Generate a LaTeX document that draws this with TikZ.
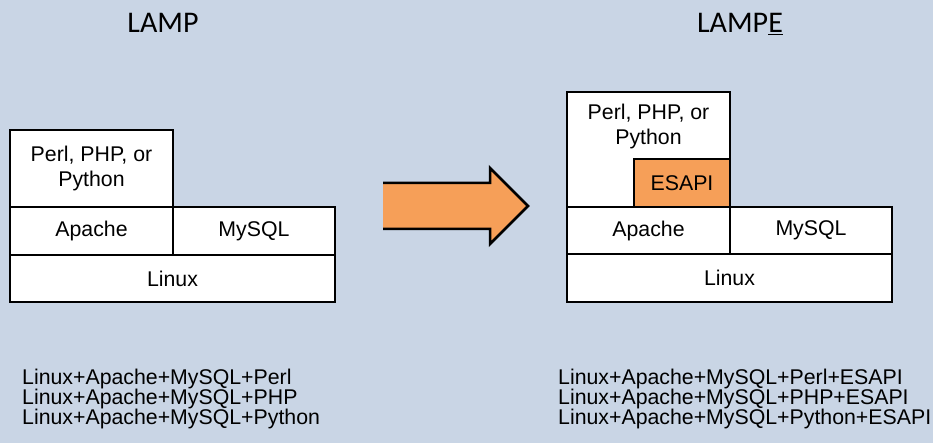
\documentclass[tikz,border=0pt]{standalone}
\usepackage{fontspec}
\setmainfont{Liberation Sans}
\newfontfamily\titlefont{Carlito}
\usetikzlibrary{positioning}
\definecolor{bgblue}{RGB}{201,213,229}
\definecolor{esorange}{RGB}{246,159,88}

\begin{document}
\begin{tikzpicture}[x=1pt,y=-1pt]
\tikzstyle{every node}+=[inner sep=0pt, font=\fontsize{21.3}{25}\selectfont]
\tikzset{layer/.style={draw=black, line width=2.5pt, fill=white, align=center},
         title/.style={anchor=base, font=\titlefont\fontsize{30}{36}\selectfont},
         combo/.style={anchor=north west, align=left, font=\fontsize{21.3}{20}\selectfont}}
\fill [bgblue] (0,0) rectangle (933,443);
\useasboundingbox (0,0) rectangle (933,443);
% titles
\node [title] (ltitle) at (163,33) {LAMP};
\node [title] (rtitle) at (740,33) {LAMP\underline{E}};
% left stack
\node [layer, minimum width=163pt, minimum height=77pt] (lscript) at (91.5,168.5) {Perl, PHP, or\\Python};
\node [layer, minimum width=163pt, minimum height=48pt] (lapache) at (91.5,231) {Apache};
\node [layer, minimum width=162pt, minimum height=48pt] (lmysql) at (254,231) {MySQL};
\node [layer, minimum width=325pt, minimum height=47pt] (llinux) at (172.5,278.5) {Linux};
% arrow
\fill [esorange] (383,183) -- (490,183) -- (490,168) -- (528,206) -- (490,244) -- (490,229) -- (383,229) -- cycle;
\draw [black, line width=2.5pt] (383,183) -- (490,183) -- (490,168) -- (528,206) -- (490,244) -- (490,229) -- (383,229);
% right stack
\node [layer, minimum width=163pt, minimum height=115pt] (rscript) at (648.5,149.5) {};
\node [align=center, below=13pt of rscript.north] (rscripttext) {Perl, PHP, or\\Python};
\node [layer, fill=esorange, minimum width=96pt, minimum height=48pt] (resapi) at (682,183) {ESAPI};
\node [layer, minimum width=163pt, minimum height=47pt] (rapache) at (648.5,230.5) {Apache};
\node [layer, minimum width=162pt, minimum height=47pt] (rmysql) at (811,230.5) {MySQL};
\node [layer, minimum width=325pt, minimum height=48pt] (rlinux) at (729.5,278) {Linux};
% combinations
\node [combo] (lcombo) at (22,369) {Linux+Apache+MySQL+Perl\\Linux+Apache+MySQL+PHP\\Linux+Apache+MySQL+Python};
\node [combo] (rcombo) at (558,369) {Linux+Apache+MySQL+Perl+ESAPI\\Linux+Apache+MySQL+PHP+ESAPI\\Linux+Apache+MySQL+Python+ESAPI};
\end{tikzpicture}
\end{document}
